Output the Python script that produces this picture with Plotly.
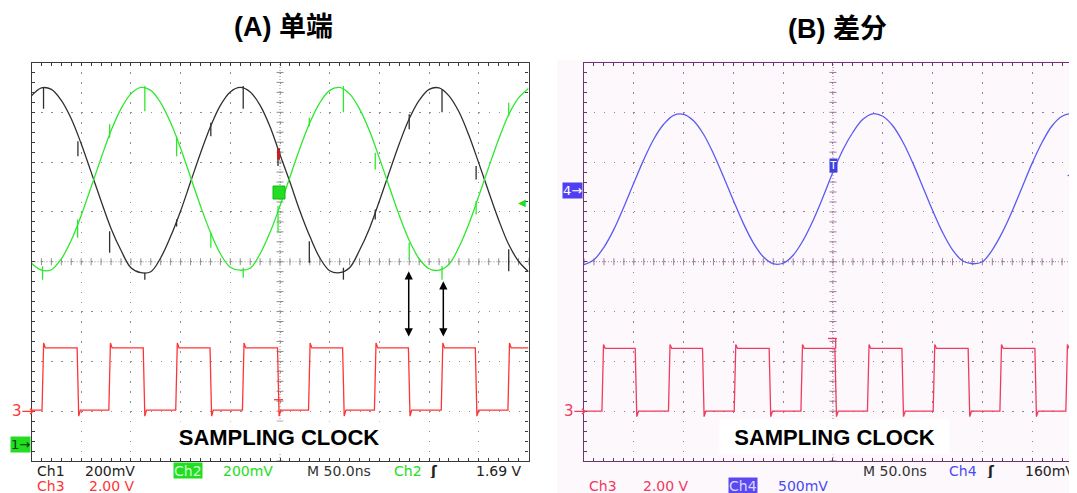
import plotly.graph_objects as go

# The page body has an 8px margin, so the figure is drawn 8px in from the window corner.
OFF = 8
WIN_W, WIN_H = 1077, 493
W, H = WIN_W - OFF, WIN_H - OFF

# ---------------- Panel A : single-ended (time in ns, 50 ns/div; vertical in screen divisions)
t_a = list(range(-250, 251, 10))
ch1_a = [3.33, 3.49, 3.46, 3.24, 2.87, 2.37, 1.80, 1.22, 0.67, 0.23,
         -0.12, -0.22, -0.20, 0.08, 0.51, 1.02, 1.60, 2.18, 2.71, 3.14,
         3.41, 3.50, 3.41, 3.14, 2.71, 2.15, 1.60, 1.02, 0.51, 0.08,
         -0.18, -0.22, -0.12, 0.23, 0.67, 1.22, 1.80, 2.37, 2.87, 3.24,
         3.46, 3.49, 3.33, 3.01, 2.54, 1.98, 1.40, 0.84, 0.35, 0.01, -0.20]
ch2_a = [-0.03, -0.17, -0.16, 0.06, 0.43, 0.93, 1.50, 2.08, 2.63, 3.07,
         3.37, 3.50, 3.44, 3.19, 2.79, 2.28, 1.70, 1.12, 0.59, 0.16,
         -0.11, -0.17, -0.13, 0.16, 0.59, 1.12, 1.70, 2.28, 2.79, 3.19,
         3.44, 3.50, 3.37, 3.07, 2.63, 2.08, 1.50, 0.93, 0.43, 0.06,
         -0.14, -0.17, -0.05, 0.29, 0.76, 1.32, 1.90, 2.46, 2.95, 3.29, 3.48]
# switching glitches (time, top, bottom)
ch1_glitch_t = [-237.9, -203.3, -171.4, -136.0, -104.0, -69.6, -37.0, -2.0, 29.5, 63.8, 95.8, 130.0, 163.0, 197.3, 230.1]
ch1_glitch_hi = [3.49, 2.42, 0.61, -0.22, 0.85, 2.79, 3.53, 2.27, 0.41, -0.12, 1.05, 2.96, 3.46, 1.92, 0.25]
ch1_glitch_lo = [3.07, 2.12, 0.18, -0.36, 0.71, 2.52, 3.07, 1.92, -0.02, -0.36, 0.85, 2.66, 3.00, 1.65, -0.19]
ch2_glitch_t = [-238.9, -203.6, -171.4, -136.0, -104.0, -69.6, -37.0, -2.0, 29.5, 63.8, 95.8, 130.0, 163.0, 197.3, 230.1]
ch2_glitch_hi = [-0.09, 0.85, 2.76, 3.53, 2.52, 0.58, -0.12, 1.12, 2.89, 3.53, 2.19, 0.38, -0.09, 1.22, 3.19]
ch2_glitch_lo = [-0.36, 0.48, 2.49, 3.02, 2.12, 0.28, -0.32, 0.58, 2.72, 3.00, 1.85, 0.05, -0.36, 0.95, 2.92]
clk_a_rise = [-238.6, -171.4, -104.1, -37.0, 29.5, 95.8, 163.0, 230.1]
clk_a_fall = [-203.3, -136.8, -69.6, -1.7, 63.8, 130.0, 197.3]
clk_a_high, clk_a_low, clk_a_over, clk_a_under = -1.73, -2.98, -1.63, -3.10

# ---------------- Panel B : differential
t_b = list(range(-250, 251, 10))
ch4_b = [-0.06, 0.04, 0.29, 0.65, 1.10, 1.58, 2.05, 2.46, 2.76, 2.94,
         2.96, 2.83, 2.56, 2.17, 1.71, 1.23, 0.77, 0.38, 0.10, -0.04,
         -0.03, 0.13, 0.43, 0.83, 1.30, 1.80, 2.25, 2.60, 2.86, 2.97,
         2.92, 2.73, 2.41, 1.99, 1.51, 1.03, 0.59, 0.24, 0.02, -0.04,
         0.00, 0.24, 0.59, 1.02, 1.50, 1.98, 2.40, 2.73, 2.92, 2.97, 2.86]
clk_b_rise = [-231.2, -164.4, -98.4, -31.4, 35.4, 101.4, 168.4, 234.6]
clk_b_fall = [-197.8, -130.2, -63.3, 2.7, 70.0, 136.5, 203.5]
clk_b_high, clk_b_low, clk_b_over, clk_b_under = -1.74, -3.00, -1.66, -3.11

# ---------------- colours
BLACK_TR = "#303030"
GREEN = "#2ee82e"
RED_A = "#ff3434"
RED_B = "#f03a5e"
BLUE = "#5b5bf2"
FRAME_A, GRID_A = "#3a3a3a", "#8e8e8e"
FRAME_B, GRID_B = "#6e3470", "#9c7c9c"


def PX(x):
    return (x - OFF) / W


def PY(y):
    return 1 - (y - OFF) / H


def clock_path(rises, falls, hi, lo, over, under, t0=-250, t1=250):
    edges = sorted([(t, "r") for t in rises] + [(t, "f") for t in falls])
    level = lo if edges[0][1] == "r" else hi
    ts, vs = [t0], [level]
    for t, k in edges:
        if k == "r":
            ts += [t - 0.8, t + 0.8, t + 2.5]
            vs += [lo, over, hi]
        else:
            ts += [t - 0.8, t + 0.8, t + 2.5]
            vs += [hi, under, lo]
    ts.append(t1)
    vs.append(hi if edges[-1][1] == "r" else lo)
    return ts, vs


def glitch_path(ts, his, los):
    xs, ys = [], []
    for t, a, b in zip(ts, his, los):
        xs += [t, t, None]
        ys += [a, b, None]
    return xs, ys


fig = go.Figure()

# centre-line tick marks (graticule)
minor_t = [v * 10 for v in range(-25, 26)]
minor_v = [v * 0.2 for v in range(-20, 21)]
for xa, ya, col in (("x", "y", GRID_A), ("x2", "y2", GRID_B)):
    fig.add_trace(go.Scatter(x=minor_t, y=[0] * len(minor_t), mode="markers", xaxis=xa, yaxis=ya,
                             marker=dict(symbol="line-ns", size=5, line=dict(color=col, width=1)),
                             hoverinfo="skip", showlegend=False))
    fig.add_trace(go.Scatter(x=[0] * len(minor_v), y=minor_v, mode="markers", xaxis=xa, yaxis=ya,
                             marker=dict(symbol="line-ew", size=5, line=dict(color=col, width=1)),
                             hoverinfo="skip", showlegend=False))

# panel A traces
fig.add_trace(go.Scatter(x=t_a, y=ch1_a, mode="lines", line=dict(color=BLACK_TR, width=1.3, shape="spline"),
                         xaxis="x", yaxis="y", hoverinfo="skip", showlegend=False))
gx, gy = glitch_path(ch1_glitch_t, ch1_glitch_hi, ch1_glitch_lo)
fig.add_trace(go.Scatter(x=gx, y=gy, mode="lines", line=dict(color=BLACK_TR, width=1.3),
                         xaxis="x", yaxis="y", hoverinfo="skip", showlegend=False))
fig.add_trace(go.Scatter(x=t_a, y=ch2_a, mode="lines", line=dict(color=GREEN, width=1.3, shape="spline"),
                         xaxis="x", yaxis="y", hoverinfo="skip", showlegend=False))
gx, gy = glitch_path(ch2_glitch_t, ch2_glitch_hi, ch2_glitch_lo)
fig.add_trace(go.Scatter(x=gx, y=gy, mode="lines", line=dict(color=GREEN, width=1.3),
                         xaxis="x", yaxis="y", hoverinfo="skip", showlegend=False))
cx, cy = clock_path(clk_a_rise, clk_a_fall, clk_a_high, clk_a_low, clk_a_over, clk_a_under)
fig.add_trace(go.Scatter(x=cx, y=cy, mode="lines", line=dict(color=RED_A, width=1.3),
                         xaxis="x", yaxis="y", hoverinfo="skip", showlegend=False))

# panel B traces
fig.add_trace(go.Scatter(x=t_b, y=ch4_b, mode="lines", line=dict(color=BLUE, width=1.3, shape="spline"),
                         xaxis="x2", yaxis="y2", hoverinfo="skip", showlegend=False))
cx, cy = clock_path(clk_b_rise, clk_b_fall, clk_b_high, clk_b_low, clk_b_over, clk_b_under)
fig.add_trace(go.Scatter(x=cx, y=cy, mode="lines", line=dict(color=RED_B, width=1.3),
                         xaxis="x2", yaxis="y2", hoverinfo="skip", showlegend=False))


def axis(domain, rng, frame, grid, dt, mdt, dash, mirror):
    return dict(domain=domain, range=rng, showline=True, linecolor=frame, linewidth=1.3, mirror=mirror,
                ticks="inside", ticklen=3, tickcolor=frame, tickwidth=1, tick0=0, dtick=dt,
                showticklabels=False, showgrid=True, gridcolor=grid, gridwidth=1.4, griddash=dash,
                zeroline=False, fixedrange=True,
                minor=dict(ticks="inside", dtick=mdt, tick0=0, ticklen=3, tickcolor=frame, tickwidth=1,
                           showgrid=False))


ydom = [PY(461), PY(62.5)]
layout = dict(
    width=W, height=H, margin=dict(l=0, r=0, t=0, b=0),
    paper_bgcolor="white", plot_bgcolor="rgba(0,0,0,0)",
    xaxis=axis([PX(31.5), PX(528.5)], [-250, 250], FRAME_A, GRID_A, 50, 10, "1.4px,8.56px", "allticks"),
    yaxis=axis(ydom, [-4, 4], FRAME_A, GRID_A, 1, 0.2, "1.4px,8.54px", "allticks"),
    xaxis2=axis([PX(584), 1.0], [-250, 245], FRAME_B, GRID_B, 50, 10, "1.4px,8.56px", "allticks"),
    yaxis2=axis(ydom, [-4, 4], FRAME_B, GRID_B, 1, 0.2, "1.4px,8.56px", False),
)
layout["xaxis"]["anchor"] = "y"
layout["yaxis"]["anchor"] = "x"
layout["xaxis2"]["anchor"] = "y2"
layout["yaxis2"]["anchor"] = "x2"

shapes = [
    dict(type="rect", xref="paper", yref="paper", x0=PX(557), x1=1, y0=0, y1=PY(60),
         fillcolor="#fcf8fc", line=dict(width=0), layer="below"),
]
for xr, yr, col in (("x", "y", GRID_A), ("x2", "y2", GRID_B)):
    shapes.append(dict(type="line", xref=xr, yref=yr, x0=-250, x1=250, y0=0, y1=0,
                       line=dict(color=col, width=1, dash="1px,2px"), layer="below"))
    shapes.append(dict(type="line", xref=xr, yref=yr, x0=0, x1=0, y0=-4, y1=4,
                       line=dict(color=col, width=1, dash="1px,2px"), layer="below"))
# trigger markers
shapes.append(dict(type="rect", xref="paper", yref="paper", x0=PX(273), x1=PX(285),
                   y0=PY(199), y1=PY(186), fillcolor="#22dd22", line=dict(color="#11bb11", width=1)))
shapes.append(dict(type="line", xref="x", yref="y", x0=-1.5, x1=-1.5, y0=2.05, y1=2.28,
                   line=dict(color="#c02020", width=3)))
shapes.append(dict(type="line", xref="x", yref="y", x0=-6, x1=3, y0=-2.77, y1=-2.77,
                   line=dict(color=RED_A, width=1.3)))
shapes.append(dict(type="line", xref="x2", yref="y2", x0=-5, x1=4, y0=-1.54, y1=-1.54,
                   line=dict(color=RED_B, width=1.3)))
shapes.append(dict(type="line", xref="x2", yref="y2", x0=2.7, x1=2.7, y0=-1.54, y1=-1.74,
                   line=dict(color=RED_B, width=1.3)))
layout["shapes"] = shapes

ann = []


def txt(x, y, s, color, size=14, bg=None, family="DejaVu Sans", xanchor="left", **kw):
    a = dict(x=PX(x), y=PY(y), xref="paper", yref="paper", text=s, showarrow=False,
             xanchor=xanchor, yanchor="middle", font=dict(family=family, size=size, color=color))
    if bg:
        a.update(bgcolor=bg, borderpad=0)
    a.update(kw)
    ann.append(a)


def readout(x, y, s, color, bg=None):
    txt(x, y, s, color, 14, bg=bg, height=15, borderpad=0)


# titles
txt(283, 27, "<b>(A) 单端</b>", "black", 27, family="Liberation Sans, Noto Sans CJK SC", xanchor="center")
txt(837, 29, "<b>(B) 差分</b>", "black", 27, family="Liberation Sans, Noto Sans CJK SC", xanchor="center")

# SAMPLING CLOCK labels
txt(279, 437, "<b>SAMPLING CLOCK</b>", "black", 22, bg="white", family="Liberation Sans", xanchor="center",
    width=214, height=30)
txt(834, 437, "<b>SAMPLING CLOCK</b>", "black", 22, bg="white", family="Liberation Sans", xanchor="center",
    width=229, height=34)

# panel A readouts
readout(36, 470, "Ch1", "#222222")
readout(84, 470, "200mV", "#222222")
readout(173, 470, "Ch2", "#c8ffc8", bg="#22dd22")
readout(222, 470, "200mV", "#22dd22")
readout(306, 470, "M 50.0ns", "#333333")
readout(393, 470, "Ch2", "#22dd22")
readout(429, 470, "<b>ʃ</b>", "#222222")
readout(475, 470, "1.69 V", "#222222")
readout(36, 485.5, "Ch3", RED_A)
readout(88, 485.5, "2.00 V", RED_A)

# panel B readouts
readout(862, 470, "M 50.0ns", "#333333")
readout(948, 470, "Ch4", "#4a4af0")
readout(986, 470, "<b>ʃ</b>", "#222222")
readout(1024, 470, "160mV", "#222222")
readout(588, 485.5, "Ch3", RED_B)
readout(642, 485.5, "2.00 V", RED_B)
readout(728, 485.5, "Ch4", "#d8d8ff", bg="#5a48f0")
readout(777, 485.5, "500mV", "#4a4af0")

# channel ground markers
txt(10, 411, "3→", RED_A, 15)
txt(10, 444, "1→", "#063806", 13, bg="#22dd22")
txt(562, 411, "3→", RED_B, 15)
txt(562, 190, "4→", "white", 13, bg="#4f3ff0")
txt(528, 202, "◀", "#22dd22", 10, xanchor="right")
txt(1077, 174, "◀", BLUE, 10, xanchor="right")
txt(833, 165.5, "T", "white", 11, bg="#4040e0", xanchor="center", family="DejaVu Sans Mono")

# double-headed arrows (clock edge -> glitch)
for t, ytop in ((129.5, -0.16), (164.3, -0.36)):
    ann.append(dict(x=t, y=-1.5, ax=t, ay=ytop, xref="x", yref="y", axref="x", ayref="y",
                    text="", showarrow=True, arrowside="end+start", arrowhead=2, arrowsize=1.1,
                    arrowwidth=1.5, arrowcolor="black"))

layout["annotations"] = ann
fig.update_layout(**layout)
fig.write_html("out.html")
